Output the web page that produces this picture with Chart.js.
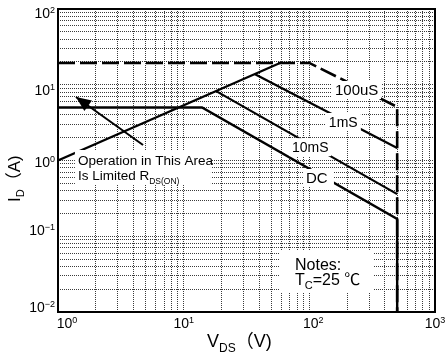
<!DOCTYPE html>
<html lang="en">
<head>
  <meta charset="UTF-8">
  <title>Safe Operating Area</title>
  <script src="https://cdn.jsdelivr.net/npm/chart.js@4.4.0/dist/chart.umd.min.js"></script>
  <style>
    html, body { margin: 0; padding: 0; background: #fff; }
  </style>
</head>
<body>

<canvas id="soa" width="446" height="354"></canvas>

<script>
  // grid positions (log decades, 1..9 per decade)
  const vdsGrid = [1, 2, 3, 4, 5, 6, 7, 8, 9, 10, 20, 30, 40, 50, 60, 70, 80, 90,
                   100, 200, 300, 400, 500, 600, 700, 800, 900, 1000];
  const idGrid = [0.01, 0.02, 0.03, 0.04, 0.05, 0.06, 0.07, 0.08, 0.09,
                  0.1, 0.2, 0.3, 0.4, 0.5, 0.6, 0.7, 0.8, 0.9,
                  1, 2, 3, 4, 5, 6, 7, 8, 9,
                  10, 20, 30, 40, 50, 60, 70, 80, 90, 100];
  const vdsDecades = [0, 1, 2, 3];
  const idDecades = [-2, -1, 0, 1, 2];

  // curves (VDS in V, ID in A)
  const rdsVds = [1, 58.4];
  const rdsId = [1.0, 19.4];
  const us100Vds = [1, 100, 500, 500];
  const us100Id = [19.4, 19.4, 5.1, 0.01];
  const ms1Vds = [37, 500];
  const ms1Id = [13.8, 1.46];
  const ms10Vds = [18, 500];
  const ms10Id = [8.3, 0.36];
  const dcVds = [1, 14, 500, 500];
  const dcId = [5.0, 5.0, 0.169, 0.01];
  const arrowVds = [4.75, 1.39];
  const arrowId = [1.6, 6.9];

  const FONT = "'Liberation Sans', Arial, 'Noto Sans CJK SC', sans-serif";

  function pts(xs, ys) {
    return xs.map((x, i) => ({ x: x, y: ys[i] }));
  }

  function linha(data, width, dash) {
    return {
      data: data,
      showLine: true,
      borderColor: "#000",
      borderWidth: width,
      borderDash: dash || [],
      pointRadius: 0,
      fill: false,
      tension: 0
    };
  }

  // text made of pieces [text, size, dy]
  function rich(ctx, x, y, parts) {
    let cx = x;
    for (const [t, size, dy] of parts) {
      ctx.font = size + "px " + FONT;
      ctx.fillText(t, cx, y + dy);
      cx += ctx.measureText(t).width;
    }
    return cx - x;
  }
  function richWidth(ctx, parts) {
    let w = 0;
    for (const [t, size] of parts) {
      ctx.font = size + "px " + FONT;
      w += ctx.measureText(t).width;
    }
    return w;
  }

  // labels anchored at data values, box = [dx0, dy0, dx1, dy1] around anchor
  const notas = [
    { x: 160, y: 7.32, box: [-3, -14, 46, 4], lines: [[["100uS", 15, 0]]] },
    { x: 143, y: 2.77, box: [-3, -14, 32, 4], lines: [[["1mS", 14, 0]]] },
    { x: 72.8, y: 1.29, box: [-3, -14, 39, 4], lines: [[["10mS", 14, 0]]] },
    { x: 94, y: 0.505, box: [-3, -14, 28, 4], lines: [[["DC", 15, 0]]] },
    { x: 1.44, y: 0.872, box: [-3, -15, 133, 19], lines: [
        [["Operation in This Area", 13.5, 0]],
        [["Is Limited R", 13.5, 0], ["DS(ON)", 8.5, 4]]
      ] },
    { x: 76.9, y: 0.0358, box: [-16, -20, 79, 22], lines: [
        [["Notes:", 16, 0]],
        [["T", 16, 0], ["C", 11, 4], ["=25 ", 16, 0], ["\u2103", 16, 0]]
      ] }
  ];

  const decor = {
    id: "decor",
    beforeDraw(chart) {
      const ctx = chart.ctx;
      ctx.save();
      ctx.fillStyle = "#fff";
      ctx.fillRect(0, 0, chart.width, chart.height);
      ctx.restore();
    },
    afterDatasetsDraw(chart) {
      const ctx = chart.ctx;
      const xs = chart.scales.x, ys = chart.scales.y;
      const a = chart.chartArea;
      ctx.save();

      // arrow head
      const tx = xs.getPixelForValue(arrowVds[1]), ty = ys.getPixelForValue(arrowId[1]);
      const fx = xs.getPixelForValue(arrowVds[0]), fy = ys.getPixelForValue(arrowId[0]);
      const len = Math.hypot(tx - fx, ty - fy);
      const ux = (tx - fx) / len, uy = (ty - fy) / len;
      const hl = 15, hw = 6.5;
      ctx.fillStyle = "#000";
      ctx.beginPath();
      ctx.moveTo(tx, ty);
      ctx.lineTo(tx - ux * hl - uy * hw, ty - uy * hl + ux * hw);
      ctx.lineTo(tx - ux * hl + uy * hw, ty - uy * hl - ux * hw);
      ctx.closePath();
      ctx.fill();

      // labels with white boxes
      ctx.textBaseline = "alphabetic";
      ctx.textAlign = "left";
      for (const n of notas) {
        const px = xs.getPixelForValue(n.x), py = ys.getPixelForValue(n.y);
        ctx.fillStyle = "#fff";
        ctx.fillRect(px + n.box[0], py + n.box[1], n.box[2] - n.box[0], n.box[3] - n.box[1]);
        ctx.fillStyle = "#000";
        n.lines.forEach((parts, i) => rich(ctx, px, py + i * 14.5, parts));
      }

      // frame
      ctx.strokeStyle = "#000";
      ctx.lineWidth = 2;
      ctx.strokeRect(a.left, a.top, a.right - a.left, a.bottom - a.top);

      // x tick labels
      const xShift = { 0: 9, 2: 4 };
      for (const e of vdsDecades) {
        const parts = [["10", 14, 0], [String(e), 9, -5]];
        const w = richWidth(ctx, parts);
        const px = xs.getPixelForValue(Math.pow(10, e)) + (xShift[e] || 0);
        rich(ctx, px - w / 2, a.bottom + 16, parts);
      }

      // y tick labels
      const yShift = { 2: 9, 1: 10, 0: 6.5, "-1": -1, "-2": 0 };
      for (const e of idDecades) {
        const parts = [["10", 14, 0], [e < 0 ? "\u2212" + (-e) : String(e), 9, -5]];
        const w = richWidth(ctx, parts);
        const py = ys.getPixelForValue(Math.pow(10, e)) + yShift[e];
        rich(ctx, a.left - 3 - w, py, parts);
      }

      // axis titles
      rich(ctx, 207, 347, [["V", 18, 0], ["DS", 12, 5], ["\uFF08V)", 18, 0]]);
      ctx.save();
      ctx.translate(20, 202);
      ctx.rotate(-Math.PI / 2);
      rich(ctx, 0, 0, [["I", 17, 0], ["D", 11, 4], ["\uFF08A)", 17, 0]]);
      ctx.restore();

      ctx.restore();
    }
  };

  const ctx = document.getElementById("soa").getContext("2d");
  new Chart(ctx, {
    type: "scatter",
    data: {
      datasets: [
        linha(pts(rdsVds, rdsId), 2.2),
        linha(pts(us100Vds, us100Id), 2.6, [17, 5]),
        linha(pts(ms1Vds, ms1Id), 2.2),
        linha(pts(ms10Vds, ms10Id), 2.2),
        linha(pts(dcVds, dcId), 2.4),
        linha(pts(arrowVds, arrowId), 2)
      ]
    },
    options: {
      responsive: false,
      animation: false,
      devicePixelRatio: 1,
      layout: { padding: { left: 58, top: 9, right: 11, bottom: 42 } },
      plugins: {
        legend: { display: false },
        tooltip: { enabled: false }
      },
      scales: {
        x: {
          type: "logarithmic",
          min: 1,
          max: 1000,
          afterBuildTicks: s => { s.ticks = vdsGrid.map(v => ({ value: v })); },
          ticks: { display: false },
          grid: { color: "#3a3a3a", lineWidth: 1, drawTicks: false },
          border: { display: false, dash: [1, 1] }
        },
        y: {
          type: "logarithmic",
          min: 0.01,
          max: 100,
          afterBuildTicks: s => { s.ticks = idGrid.map(v => ({ value: v })); },
          ticks: { display: false },
          grid: { color: "#3a3a3a", lineWidth: 1, drawTicks: false },
          border: { display: false, dash: [1, 1] }
        }
      }
    },
    plugins: [decor]
  });
</script>
</body>
</html>
